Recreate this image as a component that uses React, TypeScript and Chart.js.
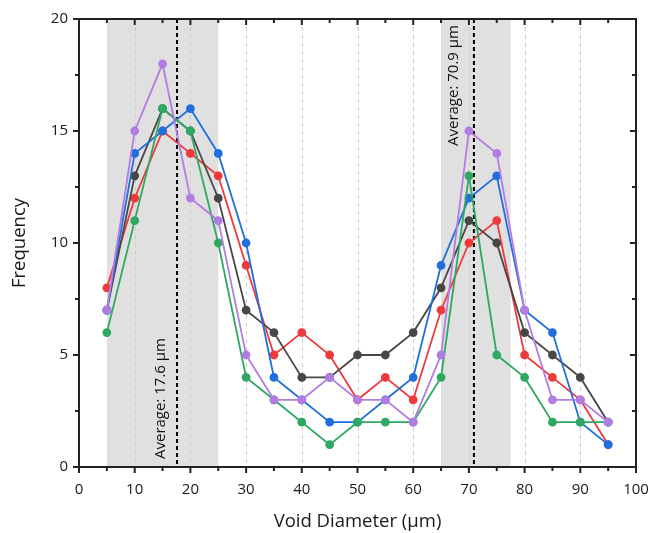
import React, { useEffect, useRef } from "react";
import { Chart, registerables } from "chart.js";

Chart.register(...registerables);

const diameters = [5, 10, 15, 20, 25, 30, 35, 40, 45, 50, 55, 60, 65, 70, 75, 80, 85, 90, 95];
const redSeries = [8, 12, 15, 14, 13, 9, 5, 6, 5, 3, 4, 3, 7, 10, 11, 5, 4, 3, 1];
const blackSeries = [7, 13, 16, 15, 12, 7, 6, 4, 4, 5, 5, 6, 8, 11, 10, 6, 5, 4, 2];
const blueSeries = [7, 14, 15, 16, 14, 10, 4, 3, 2, 2, 3, 4, 9, 12, 13, 7, 6, 2, 1];
const greenSeries = [6, 11, 16, 15, 10, 4, 3, 2, 1, 2, 2, 2, 4, 13, 5, 4, 2, 2, 2];
const purpleSeries = [7, 15, 18, 12, 11, 5, 3, 3, 4, 3, 3, 2, 5, 15, 14, 7, 3, 3, 2];

const shadedRanges = [
  [5, 25],
  [65, 77.5],
];
const averages = [17.6, 70.9];
const averageLabels = ["Average: 17.6 \u03bcm", "Average: 70.9 \u03bcm"];

const FONT = "'Open Sans', 'Noto Sans', sans-serif";

const mk = (data: number[], color: string) => ({
  data: diameters.map((x, i) => ({ x, y: data[i] })),
  borderColor: color,
  backgroundColor: color,
  pointBackgroundColor: color,
  pointBorderColor: color,
  borderWidth: 1.8,
  pointRadius: 3.5,
  tension: 0,
});

const decorPlugin = {
  id: "decor",
  beforeDatasetsDraw(chart: any) {
    const { ctx, chartArea, scales } = chart;
    const xs = scales.x;
    ctx.save();
    ctx.fillStyle = "#e0e0e0";
    shadedRanges.forEach(([a, b]) => {
      const x1 = xs.getPixelForValue(a);
      const x2 = xs.getPixelForValue(b);
      ctx.fillRect(x1, chartArea.top, x2 - x1, chartArea.bottom - chartArea.top);
    });
    ctx.strokeStyle = "#cccccc";
    ctx.lineWidth = 1;
    ctx.setLineDash([4, 4]);
    for (let v = 10; v < 100; v += 10) {
      const px = Math.round(xs.getPixelForValue(v)) + 0.5;
      ctx.beginPath();
      ctx.moveTo(px, chartArea.top);
      ctx.lineTo(px, chartArea.bottom);
      ctx.stroke();
    }
    ctx.strokeStyle = "#000";
    ctx.lineWidth = 2;
    ctx.setLineDash([4, 3]);
    averages.forEach((v) => {
      const px = xs.getPixelForValue(v);
      ctx.beginPath();
      ctx.moveTo(px, chartArea.top);
      ctx.lineTo(px, chartArea.bottom);
      ctx.stroke();
    });
    ctx.setLineDash([]);
    ctx.fillStyle = "#111";
    ctx.font = `15px ${FONT}`;
    ctx.textBaseline = "middle";
    ctx.save();
    ctx.translate(xs.getPixelForValue(averages[0]) - 16, chartArea.bottom - 8);
    ctx.rotate(-Math.PI / 2);
    ctx.textAlign = "left";
    ctx.fillText(averageLabels[0], 0, 0);
    ctx.restore();
    ctx.save();
    ctx.translate(xs.getPixelForValue(averages[1]) - 20, chartArea.top + 6);
    ctx.rotate(-Math.PI / 2);
    ctx.textAlign = "right";
    ctx.fillText(averageLabels[1], 0, 0);
    ctx.restore();
    ctx.restore();
  },
  afterDraw(chart: any) {
    const { ctx, chartArea, scales } = chart;
    const xs = scales.x;
    const ys = scales.y;
    const { left, right, top, bottom } = chartArea;
    ctx.save();
    ctx.strokeStyle = "#222";
    ctx.lineWidth = 2;
    ctx.strokeRect(left, top, right - left, bottom - top);
    for (let v = 0; v <= 100; v += 5) {
      const px = xs.getPixelForValue(v);
      const len = v % 10 === 0 ? 6 : 4;
      ctx.beginPath();
      ctx.moveTo(px, bottom);
      ctx.lineTo(px, bottom + len);
      ctx.moveTo(px, top);
      ctx.lineTo(px, top + len);
      ctx.stroke();
    }
    for (let v = 0; v <= 20; v += 2.5) {
      const py = ys.getPixelForValue(v);
      const len = v % 5 === 0 ? 6 : 4;
      ctx.beginPath();
      ctx.moveTo(left, py);
      ctx.lineTo(left - len, py);
      ctx.moveTo(right, py);
      ctx.lineTo(right - len, py);
      ctx.stroke();
    }
    ctx.restore();
  },
};

export default function App() {
  const ref = useRef<HTMLCanvasElement | null>(null);
  useEffect(() => {
    if (!ref.current) return;
    const chart = new Chart(ref.current, {
      type: "line",
      data: {
        datasets: [
          mk(purpleSeries, "#b27ce3"),
          mk(greenSeries, "#2ea862"),
          mk(blueSeries, "#1f6fdc"),
          mk(blackSeries, "#474747"),
          mk(redSeries, "#ee3a3c"),
        ],
      },
      options: {
        responsive: false,
        animation: false,
        layout: { padding: { top: 19, right: 0, left: 0, bottom: 0 } },
        plugins: { legend: { display: false }, tooltip: { enabled: false } },
        scales: {
          x: {
            type: "linear",
            min: 0,
            max: 100,
            grid: { display: false, drawTicks: false },
            border: { display: false },
            afterFit: (s: any) => {
              s.height = 66;
              s.paddingRight = 13;
              s.paddingLeft = 0;
            },
            ticks: {
              stepSize: 10,
              padding: 14,
              color: "#1a1a1a",
              font: { family: FONT, size: 15 },
            },
            title: {
              display: true,
              text: "Void Diameter (\u03bcm)",
              color: "#1a1a1a",
              font: { family: FONT, size: 18.5 },
              padding: { top: 4, bottom: 0 },
            },
          },
          y: {
            min: 0,
            max: 20,
            grid: { display: false, drawTicks: false },
            border: { display: false },
            afterFit: (s: any) => {
              s.width = 79;
              s.paddingTop = 0;
              s.paddingBottom = 0;
            },
            ticks: {
              stepSize: 5,
              padding: 11,
              color: "#1a1a1a",
              font: { family: FONT, size: 15 },
            },
            title: {
              display: true,
              text: "Frequency",
              color: "#1a1a1a",
              font: { family: FONT, size: 18.5 },
              padding: { top: 9, bottom: 4 },
            },
          },
        },
      },
      plugins: [decorPlugin],
    });
    return () => chart.destroy();
  }, []);
  return (
    <div style={{ position: "absolute", left: 0, top: 0, width: 649, height: 533, background: "#fff" }}>
      <canvas ref={ref} width={649} height={533} style={{ display: "block" }} />
    </div>
  );
}
